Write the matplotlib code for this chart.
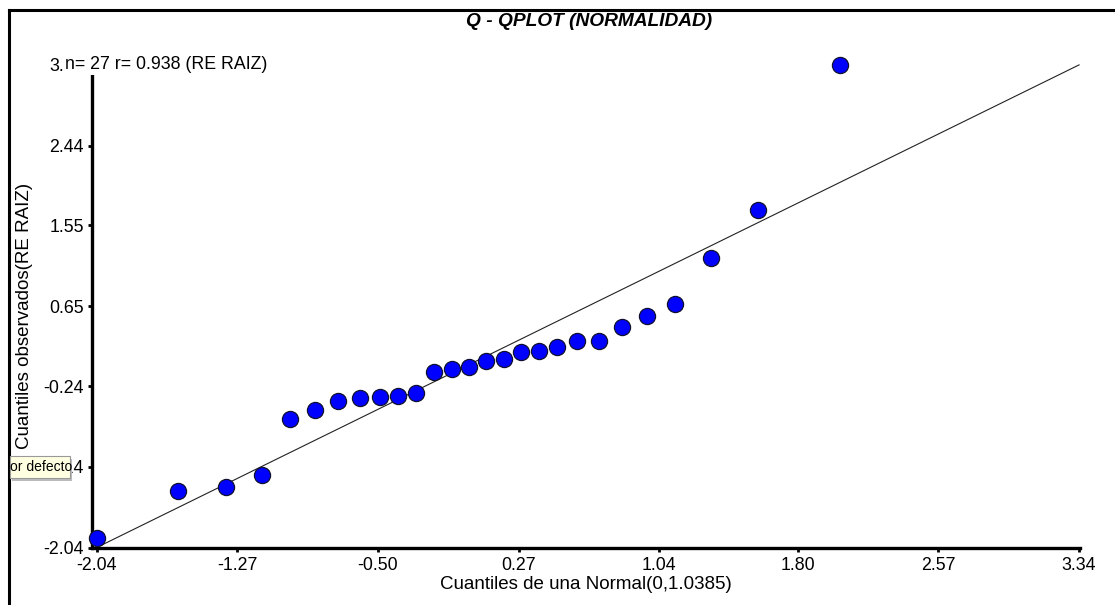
import numpy as np
import matplotlib
matplotlib.use('Agg')
import matplotlib.pyplot as plt
from matplotlib.patches import Rectangle
from matplotlib.lines import Line2D

plt.rcParams['font.family'] = ['Liberation Sans', 'DejaVu Sans']

# theoretical quantiles (normal, sd 1.0385) and observed quantiles of RE RAIZ
teoricos = [-2.04, -1.595, -1.332, -1.135, -0.981, -0.844, -0.719, -0.598, -0.489,
            -0.390, -0.291, -0.193, -0.094, 0.000, 0.092, 0.188, 0.282, 0.382,
            0.481, 0.590, 0.708, 0.835, 0.971, 1.129, 1.324, 1.582, 2.031]
observados = [-1.934, -1.411, -1.367, -1.233, -0.610, -0.509, -0.409, -0.376, -0.365,
              -0.354, -0.320, -0.081, -0.053, -0.031, 0.041, 0.058, 0.136, 0.147,
              0.192, 0.264, 0.264, 0.414, 0.537, 0.670, 1.182, 1.717, 3.342]

x_ticks = [-2.04, -1.27, -0.50, 0.27, 1.04, 1.80, 2.57, 3.34]
x_labels = ['-2.04', '-1.27', '-0.50', '0.27', '1.04', '1.80', '2.57', '3.34']
y_ticks = [-2.04, -1.14, -0.24, 0.65, 1.55, 2.44, 3.34]
y_labels = ['-2.04', '-1.14', '-0.24', '0.65', '1.55', '2.44', '3.34']

n = len(observados)
r = 0.938

fig = plt.figure(figsize=(11.15, 6.05), dpi=100)
ax = fig.add_axes([92/1115, 57.5/605, 988/1115, 488/605])

# identity reference line
ax.plot([x_ticks[0], x_ticks[-1]], [y_ticks[0], y_ticks[-1]], color='#222222', lw=0.8, zorder=2)
ax.scatter(teoricos, observados, s=135, c='#0000ff', edgecolors='#101030', linewidths=0.9,
           zorder=3, clip_on=False)

ax.set_xlim(-2.066, 3.345)
ax.set_ylim(-2.04, 3.40)
ax.set_xticks(x_ticks)
ax.set_xticklabels(x_labels)
ax.set_yticks(y_ticks)
ax.set_yticklabels(y_labels)

for s in ['top', 'right']:
    ax.spines[s].set_visible(False)
for s in ['left', 'bottom']:
    ax.spines[s].set_linewidth(2.4)
ax.spines['left'].set_bounds(-2.04, 3.25)
ax.tick_params(direction='out', length=3, width=2, labelsize=12.8, pad=3, colors='black')
ax.tick_params(axis='x', pad=4)

ax.set_xlabel('Cuantiles de una Normal(0,1.0385)', fontsize=13.5, labelpad=1)
ax.set_ylabel('Cuantiles observados(RE RAIZ)', fontsize=13.5)
ax.yaxis.set_label_coords(-0.060, 0.475)

fig.text(0.528, 0.965, 'Q - QPLOT (NORMALIDAD)', ha='center', va='center',
         fontsize=13.8, fontweight='bold', fontstyle='italic')

# summary text sits over the top tick label
ax.text(-2.213, 3.34, f'n= {n} r= {r} (RE RAIZ)', fontsize=12.8, ha='left', va='center',
        bbox=dict(facecolor='white', edgecolor='none', pad=1), zorder=10, clip_on=False)

# outer frame (left and top edges)
fig.add_artist(Line2D([9/1115, 9/1115], [0, 1 - 10/605], color='black', lw=2.2,
                      transform=fig.transFigure))
fig.add_artist(Line2D([9/1115, 1], [1 - 10/605, 1 - 10/605], color='black', lw=2.2,
                      transform=fig.transFigure))

# tooltip box
fig.add_artist(Rectangle((12/1115, 1 - 481/605), 60/1115, 22/605, transform=fig.transFigure,
                         facecolor='#bbbbbb', edgecolor='none', zorder=19))
fig.add_artist(Rectangle((10/1115, 1 - 478/605), 60/1115, 22/605, transform=fig.transFigure,
                         facecolor='#ffffe1', edgecolor='#999999', lw=0.8, zorder=20))
fig.text(10/1115, 1 - 467/605, 'or defecto', fontsize=10, ha='left', va='center', zorder=21)

fig.savefig('out.png', dpi=100)
